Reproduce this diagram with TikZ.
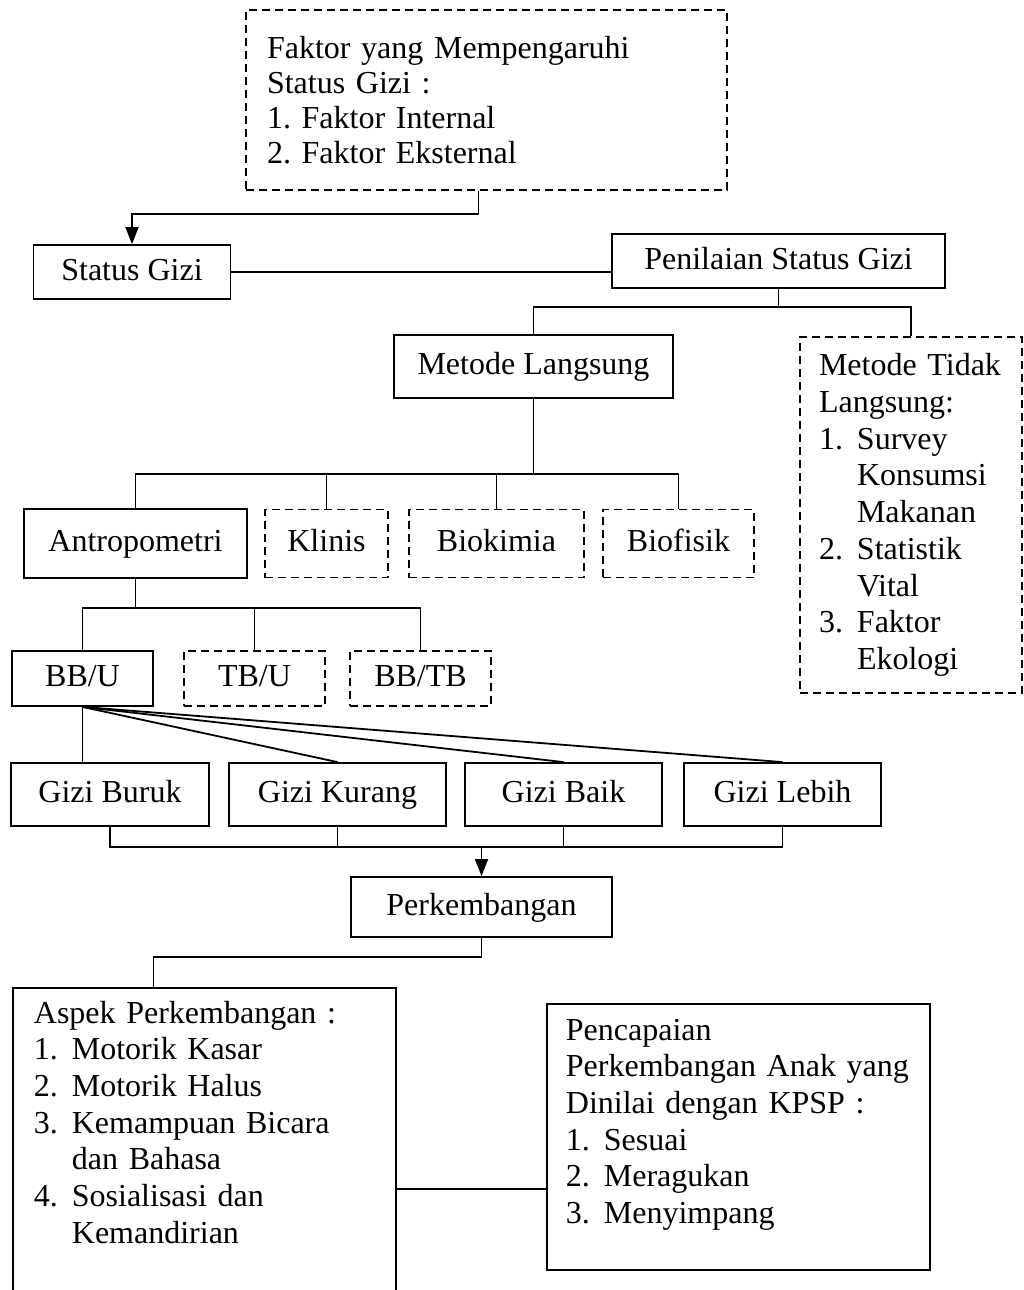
\documentclass[tikz,border=0pt]{standalone}
\usepackage{fontspec}
\setmainfont{Liberation Serif}
\frenchspacing
\usetikzlibrary{arrows.meta,positioning,calc}
\tikzset{
  gizi box/.style={draw,line width=1.8pt,inner sep=0pt,text height=22pt,text depth=6pt},
  dash box/.style={gizi box,dash pattern=on 8pt off 5pt},
  list box/.style={draw,line width=1.8pt,align=left,inner ysep=0pt},
  dash list/.style={list box,dash pattern=on 8pt off 5pt},
  gizi line/.style={line width=1.8pt},
  gizi arrow/.style={gizi line,-{Triangle[length=17pt,width=13pt]}}
}
\newcommand{\gnum}[2]{\makebox[38pt][l]{#1}#2}
\newcommand{\gind}{\hspace*{38pt}}

\begin{document}
\begin{tikzpicture}[x=1pt,y=-1pt,font=\fontsize{32}{36.7}\selectfont]
  \useasboundingbox (0,0) rectangle (1024,1290);
  \clip (0,0) rectangle (1024,1290);
  % status gizi
  \node[dash list,text width=439pt,inner xsep=21pt,minimum height=180pt,font=\fontsize{32}{35}\selectfont] (faktor) at (486.5,100)
    {Faktor yang Mempengaruhi\\Status Gizi :\\1. Faktor Internal\\2. Faktor Eksternal};
  \node[gizi box,minimum width=197pt,minimum height=54pt] (status) at (132,272) {Status Gizi};
  \node[gizi box,minimum width=333pt,minimum height=54pt] (nilai) at (778.5,261) {Penilaian Status Gizi};
  \node[gizi box,minimum width=279pt,minimum height=63pt] (langsung) at (533.5,366.5) {Metode Langsung};
  \node[dash list,text width=184pt,inner xsep=19pt,minimum height=356pt] (tidak) at (911,515)
    {Metode Tidak\\Langsung:\\\gnum{1.}{Survey}\\\gind Konsumsi\\\gind Makanan\\\gnum{2.}{Statistik}\\\gind Vital\\\gnum{3.}{Faktor}\\\gind Ekologi};
  % metode langsung
  \node[gizi box,minimum width=223pt,minimum height=69pt] (antro) at (135.5,543.5) {Antropometri};
  \node[dash box,minimum width=123pt,minimum height=68pt] (klinis) at (326.5,543.5) {Klinis};
  \node[dash box,minimum width=175pt,minimum height=68pt] (biokimia) at (496.5,543.5) {Biokimia};
  \node[dash box,minimum width=151pt,minimum height=68pt] (biofisik) at (678.5,543.5) {Biofisik};
  \node[gizi box,minimum width=141pt,minimum height=55pt] (bbu) at (82.5,678.5) {BB/U};
  \node[dash box,minimum width=141pt,minimum height=55pt] (tbu) at (254.5,678.5) {TB/U};
  \node[dash box,minimum width=141pt,minimum height=55pt] (bbtb) at (420.5,678.5) {BB/TB};
  \node[gizi box,minimum width=198pt,minimum height=63pt] (buruk) at (110,794.5) {Gizi Buruk};
  \node[gizi box,minimum width=217pt,minimum height=63pt] (kurang) at (337.5,794.5) {Gizi Kurang};
  \node[gizi box,minimum width=197pt,minimum height=63pt] (baik) at (563.5,794.5) {Gizi Baik};
  \node[gizi box,minimum width=197pt,minimum height=63pt] (lebih) at (782.5,794.5) {Gizi Lebih};
  % perkembangan
  \node[gizi box,minimum width=261pt,minimum height=60pt] (perk) at (481.5,907) {Perkembangan};
  \node[list box,anchor=north west,text width=341pt,inner xsep=21pt,inner ysep=13pt,text depth=300pt] (aspek) at (12,987)
    {Aspek Perkembangan :\\\gnum{1.}{Motorik Kasar}\\\gnum{2.}{Motorik Halus}\\\gnum{3.}{Kemampuan Bicara}\\\gind dan Bahasa\\\gnum{4.}{Sosialisasi dan}\\\gind Kemandirian};
  \node[list box,anchor=north west,text width=345pt,inner xsep=19pt,inner ysep=15pt,text depth=215pt] (capai) at (546,1003)
    {Pencapaian\\Perkembangan Anak yang\\Dinilai dengan KPSP :\\\gnum{1.}{Sesuai}\\\gnum{2.}{Meragukan}\\\gnum{3.}{Menyimpang}};

  \coordinate (jn) at (0,307);
  \coordinate (jm) at (0,474);
  \coordinate (ja) at (0,608);
  \coordinate (jg) at (0,847);
  \coordinate (jc) at (0,1189);
  \draw[gizi arrow] ([xshift=-8pt]faktor.south) -- ++(0,23) -| (status.north);
  \draw[gizi line] (status.east) -- (status.east -| nilai.west);
  \draw[gizi line] (nilai.south) -- (nilai.south |- jn);
  \draw[gizi line] (langsung.north) |- (tidak.north |- jn) -- (tidak.north);
  \draw[gizi line] (langsung.south) -- (langsung.south |- jm);
  \draw[gizi line] (antro.north) |- (biofisik.north |- jm) -- (biofisik.north);
  \draw[gizi line] (klinis.north) -- (klinis.north |- jm) (biokimia.north) -- (biokimia.north |- jm);
  \draw[gizi line] (antro.south) -- (antro.south |- ja);
  \draw[gizi line] (bbu.north) |- (bbtb.north |- ja) -- (bbtb.north);
  \draw[gizi line] (tbu.north) -- (tbu.north |- ja);
  \draw[gizi line] (bbu.south) -- (bbu.south |- buruk.north);
  \foreach \g in {kurang,baik,lebih}
    \draw[gizi line] (bbu.south) -- (\g.north);
  \draw[gizi line] (buruk.south) |- (lebih.south |- jg) -- (lebih.south);
  \draw[gizi line] (kurang.south) -- (kurang.south |- jg) (baik.south) -- (baik.south |- jg);
  \draw[gizi arrow] (perk.north |- jg) -- (perk.north);
  \draw[gizi line] (perk.south) -- ++(0,19) -| ([xshift=-51pt]aspek.north);
  \draw[gizi line] (aspek.east |- jc) -- (capai.west |- jc);
\end{tikzpicture}
\end{document}
